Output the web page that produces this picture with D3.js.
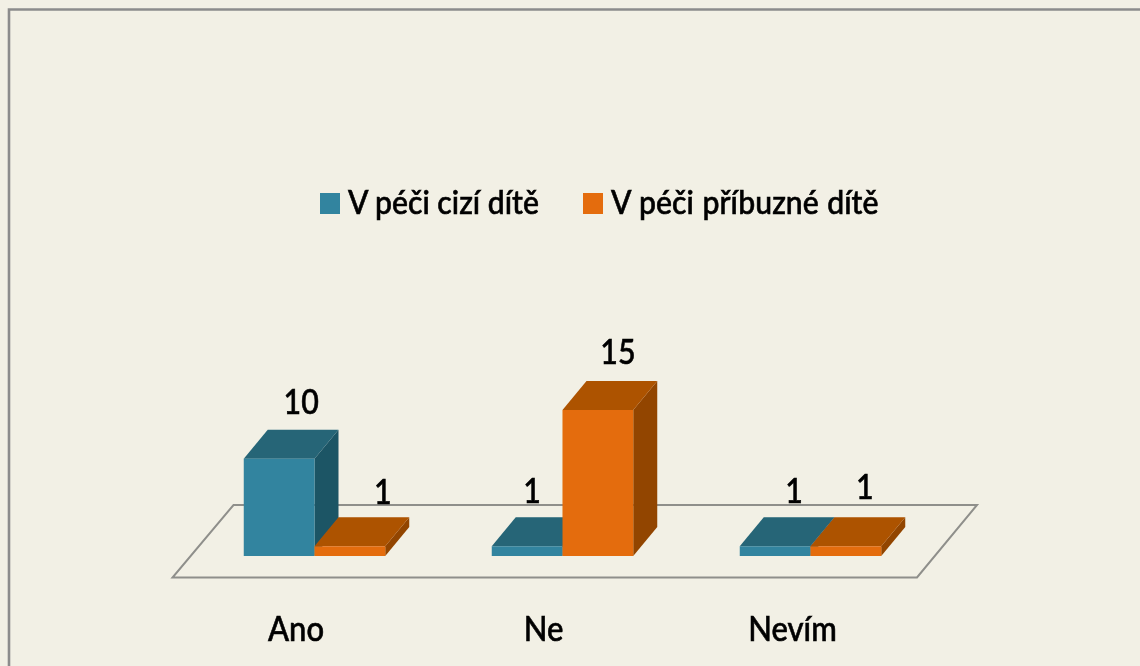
<!DOCTYPE html>
<html><head><meta charset="utf-8">
<script src="https://cdn.jsdelivr.net/npm/d3@7/dist/d3.min.js"></script>
<style>
html,body{margin:0;padding:0;background:#f2f0e5;overflow:hidden}
text{font-family:Lato,"Open Sans",sans-serif;fill:#000;stroke:#000;stroke-width:0.55;font-weight:500}
</style></head><body><svg id="c" width="1140" height="666"></svg>
<script>
const categories = ["Ano", "Ne", "Nevím"];
const seriesNames = ["V péči cizí dítě", "V péči příbuzné dítě"];
const fosterValues = [10, 1, 1];
const relativeValues = [1, 15, 1];
const seriesValues = [fosterValues, relativeValues];
const seriesColors = [
  {front:"#31849f", top:"#256577", side:"#1f5465"},
  {front:"#e46c0a", top:"#ad5206", side:"#924504"}
];

const svg = d3.select("#c");
svg.append("defs").append("filter").attr("id","soft").attr("x","-10%").attr("y","-10%").attr("width","120%").attr("height","120%")
  .append("feGaussianBlur").attr("stdDeviation",0.5);

const W=1140,H=666;
svg.append("rect").attr("width",W).attr("height",H).attr("fill","#f2f0e5");
// frame: only the top and left edges are visible
svg.append("path").attr("d","M9,666V9.5H1140").attr("fill","none").attr("stroke","#8c8c8c").attr("stroke-width",2.6);

const base=556, depthX=24, depthY=29, groupWidth=141.5;
const x0=d3.scaleBand().domain(categories).range([190.5,934.5]);
const x1=d3.scaleBand().domain(d3.range(seriesNames.length)).range([0,groupWidth]);
const y=d3.scaleLinear().domain([0,15]).range([base,410]);
const catLeft=c=>x0(c)+x0.bandwidth()/2-groupWidth/2;

const chart=svg.append("g").attr("filter","url(#soft)");
// floor
chart.append("path")
  .attr("d",d3.line()([[172.5,577.5],[917,577.5],[977,505],[233.5,505]])+"Z")
  .attr("fill","none").attr("stroke","#8f8f8b").attr("stroke-width",2);

const path=d3.line();
categories.forEach((c,ci)=>{
  seriesValues.forEach((vals,si)=>{
    const v=vals[ci], col=seriesColors[si];
    const l=catLeft(c)+x1(si), r=l+x1.bandwidth(), t=y(v), b=y(0);
    const g=chart.append("g");
    g.append("path").attr("d",path([[r,b],[r+depthX,b-depthY],[r+depthX,t-depthY],[r,t]])+"Z").attr("fill",col.side);
    g.append("path").attr("d",path([[l,t],[r,t],[r+depthX,t-depthY],[l+depthX,t-depthY]])+"Z").attr("fill",col.top);
    g.append("rect").attr("x",l).attr("y",t).attr("width",r-l).attr("height",b-t).attr("fill",col.front);
  });
});

const textG=svg.append("g").attr("filter","url(#soft)");
function label(txt,cx,by,size,sx,anchor,wordGap){
  // the source's text is tall and narrow: stretched vertically around its baseline
  textG.append("text").attr("transform",`translate(${cx},${by}) scale(${sx},1.12)`)
    .attr("text-anchor",anchor||"middle").attr("font-size",size).attr("word-spacing",wordGap||0).text(txt);
}
// value labels: offset from bar centre in x, and distance above the top face in y, as placed in the source
const labelShift=[[[22,16],[33,13]],[[5,14],[20,17]],[[19,14],[19,18]]];
const catLabelX=[296,543.5,792.5];
categories.forEach((c,ci)=>{
  seriesValues.forEach((vals,si)=>{
    const cx=catLeft(c)+x1(si)+x1.bandwidth()/2;
    const [dx,dy]=labelShift[ci][si];
    label(vals[ci],cx+dx,y(vals[ci])-depthY-dy,31,0.98);
  });
  label(c,catLabelX[ci],641,31,1.0);
});
// legend
const legendX=[320,583];
const legendWordGap=[0,1];
seriesNames.forEach((s,i)=>{
  textG.append("rect").attr("x",legendX[i]).attr("y",193).attr("width",20).attr("height",21).attr("fill",seriesColors[i].front);
  label(s,legendX[i]+28,214,29,1.04,"start",legendWordGap[i]);
});
</script></body></html>
